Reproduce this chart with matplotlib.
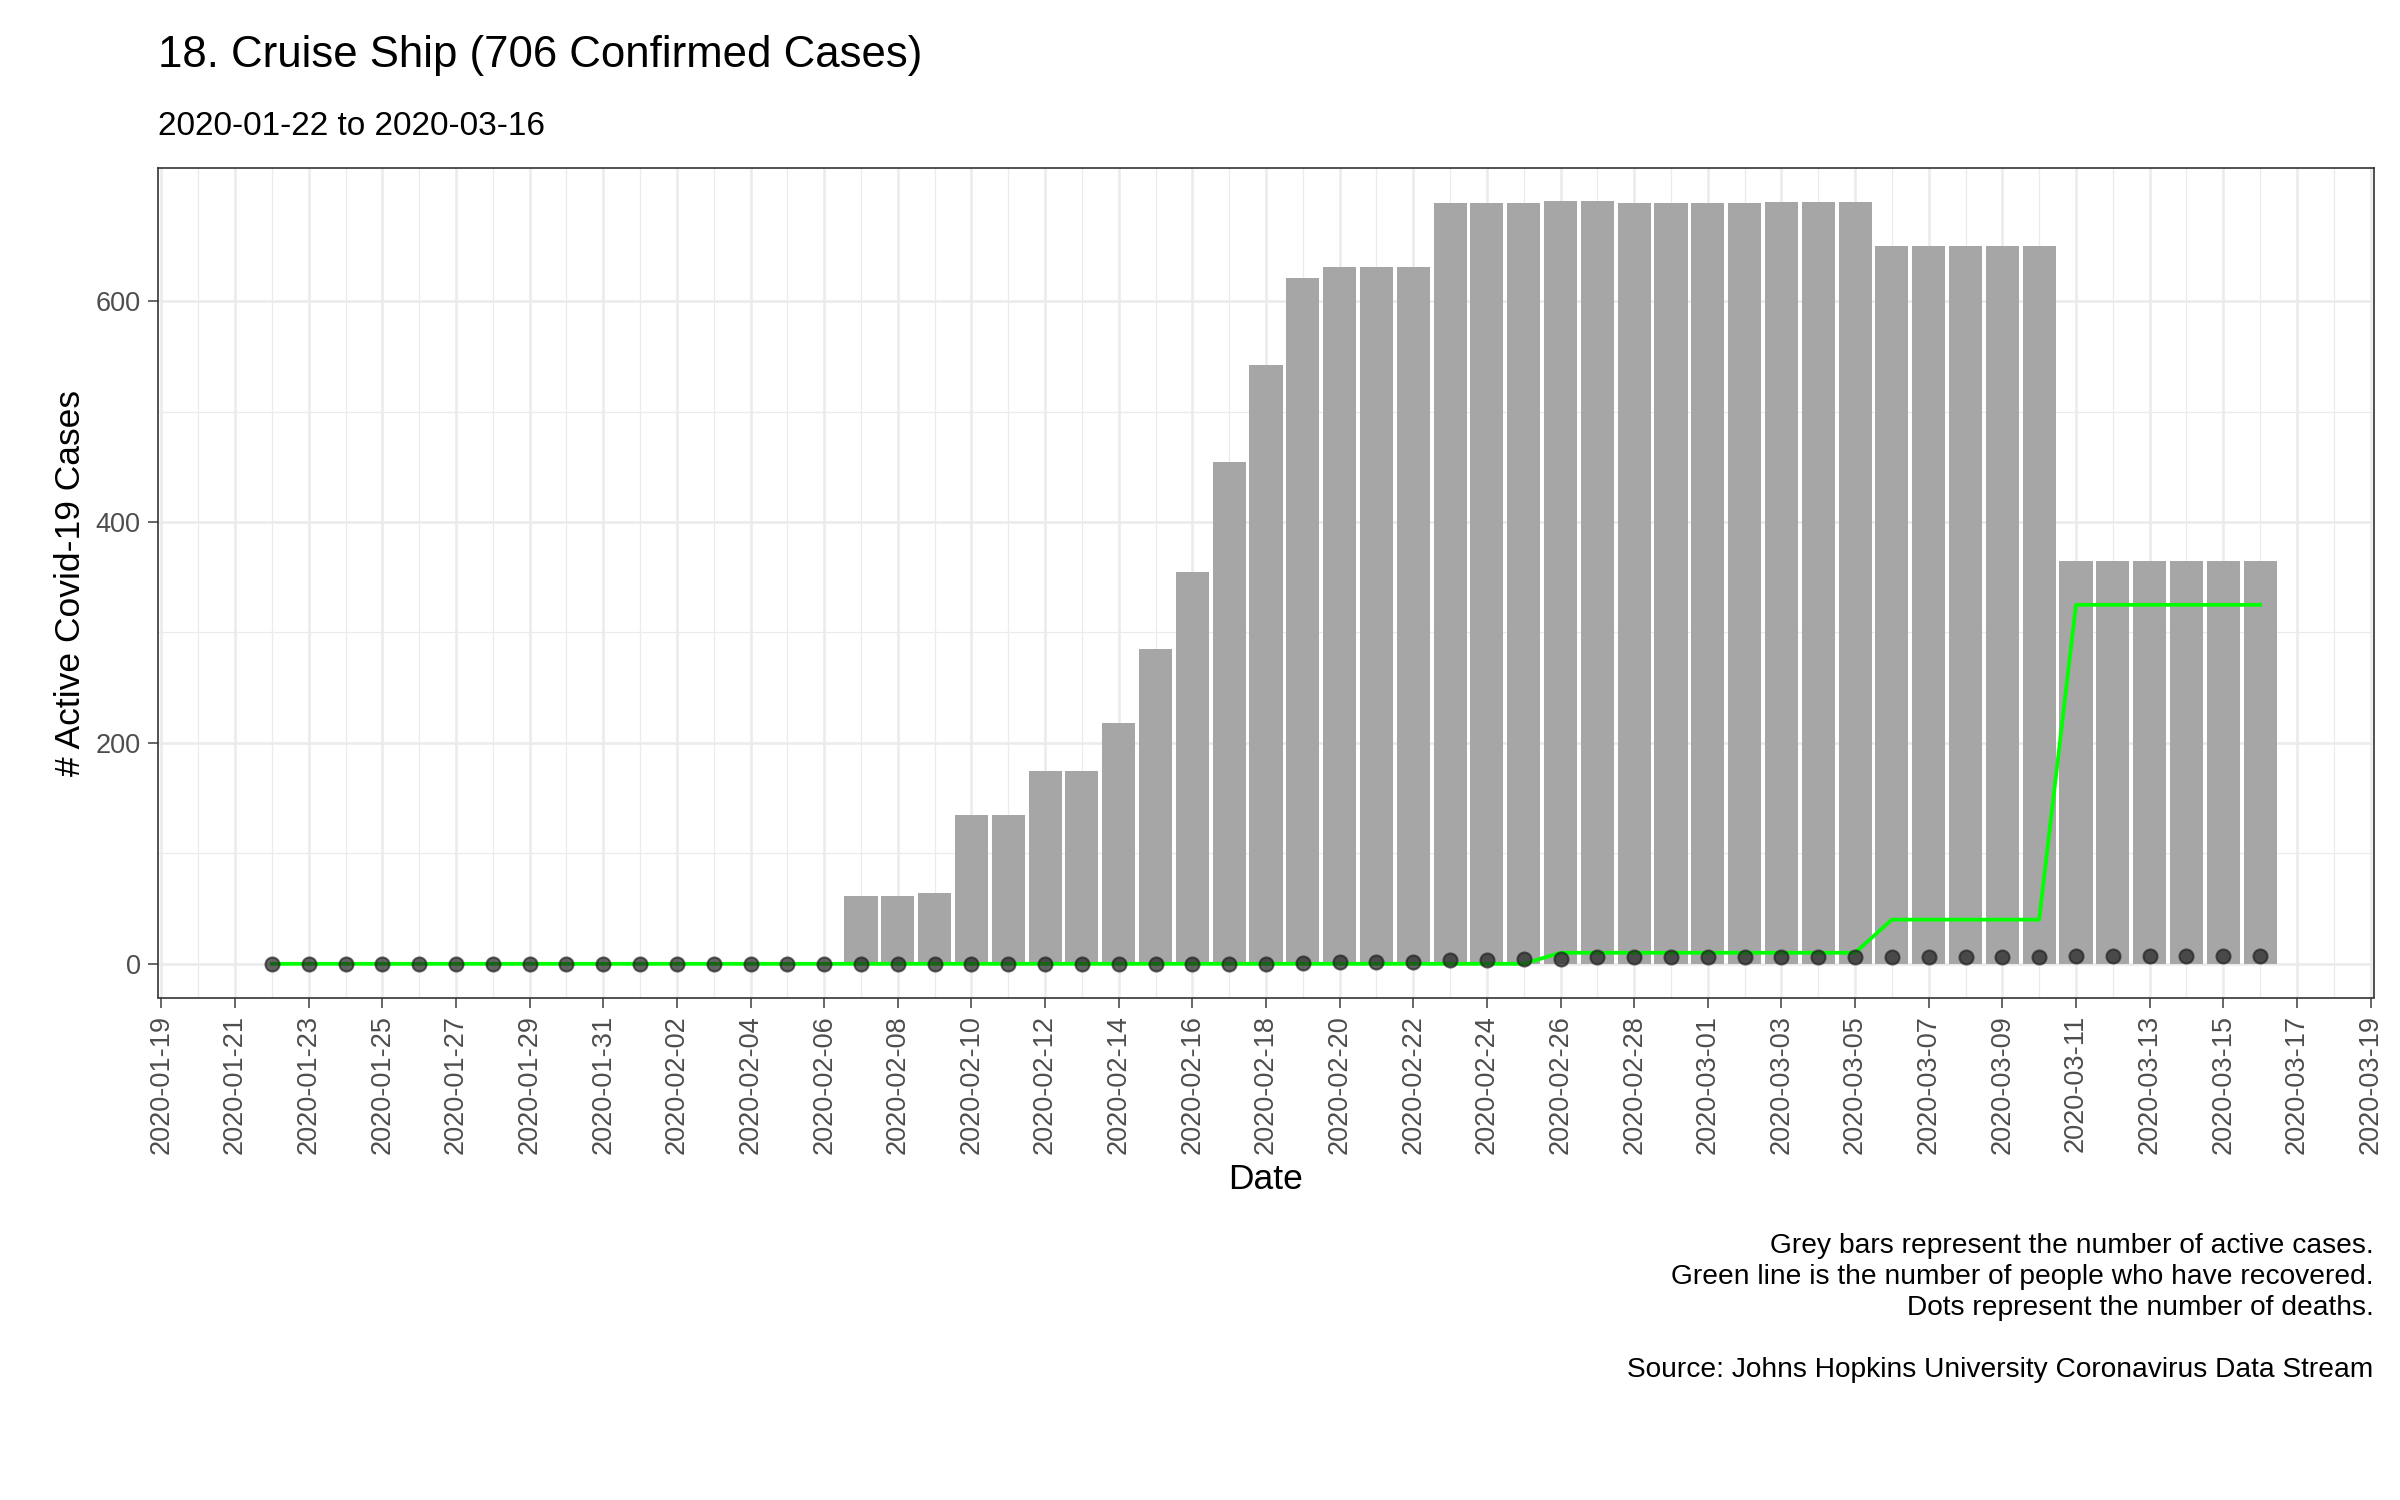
import numpy as np
import pandas as pd
import matplotlib
matplotlib.use("Agg")
import matplotlib.pyplot as plt
import matplotlib.dates as mdates

plt.rcParams['font.family'] = ['Liberation Sans', 'DejaVu Sans']

dates = pd.date_range("2020-01-22", "2020-03-16", freq="D")

# active cases per day
active = [0]*16 + [61, 61, 64, 135, 135, 175, 175, 218, 285, 355, 454, 542, 621,
                   631, 631, 631, 689, 689, 689, 691, 691, 689, 689, 689, 689,
                   690, 690, 690, 650, 650, 650, 650, 650,
                   365, 365, 365, 365, 365, 365]
recovered = [0]*35 + [10]*9 + [40]*5 + [325]*6
deaths = [0]*28 + [1] + [2]*3 + [3]*2 + [4]*2 + [6]*13 + [7]*6

fig = plt.figure(figsize=(16, 10), dpi=150)
ax = fig.add_axes([0.066, 0.335, 0.923, 0.553])

ax.bar(dates, active, width=0.9, color="#a6a6a6", zorder=2)
ax.plot(dates, recovered, color="#00ff00", lw=1.8, zorder=3)
ax.scatter(dates, deaths, s=45, color="#222222", alpha=0.7, zorder=4)

ax.set_xlim(pd.Timestamp("2020-01-18 22:00"), pd.Timestamp("2020-03-19 02:00"))
ax.set_ylim(-30.5, 720.5)
ax.set_yticks([0, 200, 400, 600])
ax.set_yticks([100, 300, 500], minor=True)
ticks = pd.date_range("2020-01-19", "2020-03-19", freq="2D")
ax.set_xticks(ticks)
ax.set_xticks(pd.date_range("2020-01-20", "2020-03-18", freq="2D"), minor=True)
ax.xaxis.set_major_formatter(mdates.DateFormatter("%Y-%m-%d"))
ax.tick_params(axis='x', rotation=90, labelsize=13, colors="#4d4d4d", length=5)
ax.tick_params(axis='y', labelsize=13, colors="#4d4d4d", length=5)
ax.tick_params(which='minor', length=0)
ax.grid(which='major', color="#ebebeb", lw=1.2, zorder=0)
ax.grid(which='minor', color="#ebebeb", lw=0.6, zorder=0)
ax.set_axisbelow(True)
for s in ax.spines.values():
    s.set_color("#333333")
    s.set_linewidth(0.8)

ax.set_xlabel("Date", fontsize=17)
ax.set_ylabel("# Active Covid-19 Cases", fontsize=17)

fig.text(0.066, 0.955, "18. Cruise Ship (706 Confirmed Cases)", fontsize=21)
fig.text(0.066, 0.91, "2020-01-22 to 2020-03-16", fontsize=16)
fig.text(0.989, 0.078, "Grey bars represent the number of active cases.\n"
         "Green line is the number of people who have recovered.\n"
         "Dots represent the number of deaths.\n\n"
         "Source: Johns Hopkins University Coronavirus Data Stream",
         fontsize=13.5, ha="right", va="bottom", linespacing=1.25)

fig.savefig("out.png")
